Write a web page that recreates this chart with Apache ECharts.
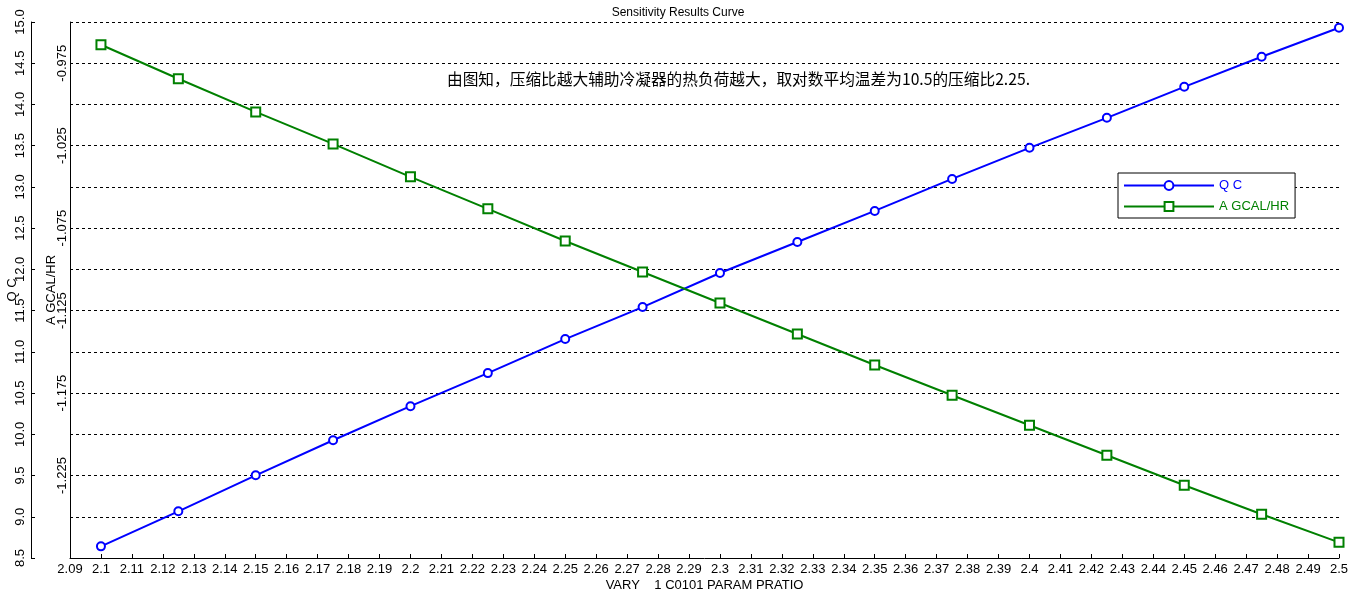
<!DOCTYPE html>
<html>
<head>
<meta charset="utf-8">
<script src="https://cdn.jsdelivr.net/npm/echarts@6/dist/echarts.min.js"></script>
<style>html,body{margin:0;padding:0;background:#fff;}#c{width:1356px;height:597px;}</style>
</head>
<body>
<div id="c"></div>
<script>
const xValues = [2.1, 2.125, 2.15, 2.175, 2.2, 2.225, 2.25, 2.275, 2.3, 2.325, 2.35, 2.375, 2.4, 2.425, 2.45, 2.475, 2.5];
const qcValues = [8.641, 9.066, 9.503, 9.928, 10.341, 10.742, 11.155, 11.543, 11.956, 12.332, 12.709, 13.097, 13.474, 13.838, 14.214, 14.579, 14.931];
const aValues = [-0.9638, -0.9844, -1.0045, -1.0239, -1.0439, -1.0633, -1.0828, -1.1016, -1.1204, -1.1392, -1.1580, -1.1763, -1.1945, -1.2127, -1.2309, -1.2485, -1.2655];
const titleText = 'Sensitivity Results Curve';
const xName = 'VARY    1 C0101 PARAM PRATIO';
const qcName = 'Q C';
const aName = 'A GCAL/HR';
const note = '由图知，压缩比越大辅助冷凝器的热负荷越大，取对数平均温差为10.5的压缩比2.25.';

const FONT = 'Arial, "Liberation Sans", sans-serif';
const chart = echarts.init(document.getElementById('c'), null, {renderer: 'canvas'});
chart.setOption({
  animation: false,
  backgroundColor: '#fff',
  title: {
    text: titleText, left: 'center', top: 2,
    textStyle: {fontFamily: FONT, fontSize: 12, fontWeight: 'normal', color: '#000'}
  },
  graphic: [{
    type: 'text', left: 447, top: 71,
    style: {text: note, fontFamily: '"Noto Sans CJK SC", sans-serif', fontSize: 15.7, fill: '#000'}
  }],
  legend: {
    orient: 'vertical', left: 1118, top: 173,
    padding: [6, 6, 5, 5], itemGap: 8, itemWidth: 90, itemHeight: 11,
    backgroundColor: '#fff', borderColor: '#000', borderWidth: 1, borderRadius: 0,
    data: [
      {name: qcName, textStyle: {color: '#0000ff'}},
      {name: aName, textStyle: {color: '#008000'}}
    ],
    textStyle: {fontFamily: FONT, fontSize: 13}
  },
  grid: {left: 70, right: 17, top: 22, bottom: 39, containLabel: false, outerBoundsMode: 'none'},
  xAxis: {
    type: 'value', min: 2.09, max: 2.5, interval: 0.01,
    name: xName, nameLocation: 'middle', nameGap: 21, nameMoveOverlap: false,
    nameTextStyle: {fontFamily: FONT, fontSize: 13, color: '#000'},
    axisLine: {show: true, lineStyle: {color: '#000', width: 1}},
    axisTick: {show: true, inside: true, length: 4, lineStyle: {color: '#000'}},
    axisLabel: {fontFamily: FONT, fontSize: 13, color: '#000', margin: 5,
      formatter: v => String(parseFloat(v.toFixed(2)))},
    splitLine: {show: false}
  },
  yAxis: [{
    type: 'value', min: 8.5, max: 15, interval: 0.5, position: 'left', offset: 39,
    name: qcName, nameLocation: 'middle', nameRotate: 90, nameGap: 12, nameMoveOverlap: false,
    nameTextStyle: {fontFamily: FONT, fontSize: 13, color: '#000'},
    axisLine: {show: true, lineStyle: {color: '#000', width: 1}},
    axisTick: {show: true, inside: true, length: 4, lineStyle: {color: '#000'}},
    axisLabel: {fontFamily: FONT, fontSize: 13, color: '#000', rotate: 90, margin: 4,
      formatter: v => v.toFixed(1)},
    splitLine: {show: true, lineStyle: {color: '#000', type: [3, 3], width: 1}}
  }, {
    type: 'value', min: -1.275, max: -0.95, interval: 0.05, position: 'left', offset: 0,
    name: aName, nameLocation: 'middle', nameRotate: 90, nameGap: 12, nameMoveOverlap: false,
    nameTextStyle: {fontFamily: FONT, fontSize: 13, color: '#000'},
    axisLine: {show: true, lineStyle: {color: '#000', width: 1}},
    axisTick: {show: false},
    axisLabel: {fontFamily: FONT, fontSize: 13, color: '#000', rotate: 90, margin: 1,
      formatter: v => (Math.abs(v + 1.275) < 1e-6 || Math.abs(v + 0.95) < 1e-6) ? '' : v.toFixed(3)},
    splitLine: {show: false}
  }],
  series: [{
    name: qcName, type: 'line', yAxisIndex: 0,
    data: xValues.map((x, i) => [x, qcValues[i]]),
    symbol: 'emptyCircle', symbolSize: 8,
    lineStyle: {color: '#0000ff', width: 2},
    itemStyle: {color: '#0000ff', borderWidth: 1}
  }, {
    name: aName, type: 'line', yAxisIndex: 1,
    data: xValues.map((x, i) => [x, aValues[i]]),
    symbol: 'emptyRect', symbolSize: 9,
    lineStyle: {color: '#008000', width: 2},
    itemStyle: {color: '#008000', borderWidth: 1}
  }]
});
</script>
</body>
</html>
